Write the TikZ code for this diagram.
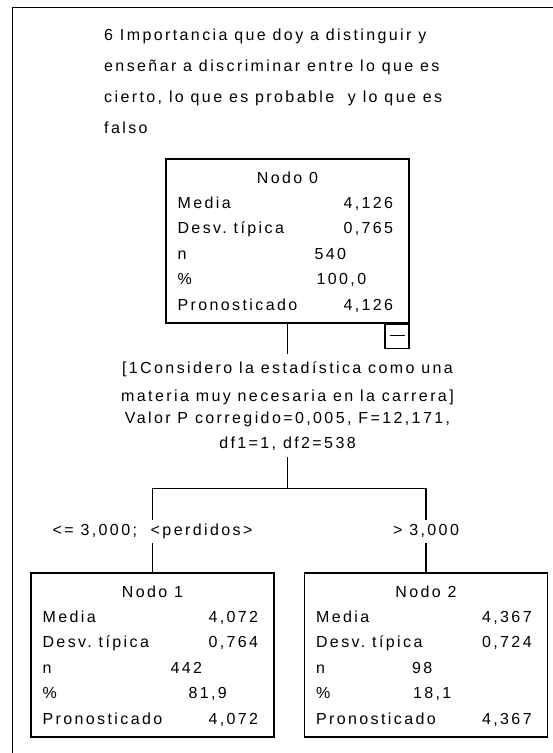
\documentclass[tikz,border=0pt]{standalone}
\usepackage{fontspec}
\setmainfont{Liberation Sans}[LetterSpace=15]
\usetikzlibrary{calc}
\tikzset{
  every picture/.style={line join=miter, line cap=rect},
  marco/.style={line width=1pt},
  caja/.style={draw, line width=1.3pt, minimum width=243pt, minimum height=164pt, inner sep=0pt},
  fila/.style={anchor=west, inner sep=0pt, text height=11pt, text depth=3pt},
  valor/.style={anchor=east, inner sep=0pt, text height=11pt, text depth=3pt},
  enlace/.style={line width=1.3pt},
  etiqueta/.style={inner sep=0pt, minimum height=24pt},
}

\begin{document}
\begin{tikzpicture}[x=1pt, y=-1pt, font=\fontsize{16pt}{25pt}\selectfont]
\useasboundingbox (0,0) rectangle (553,753);
\draw[marco] (553,7) -- (12,7) -- (12,753);

\node[anchor=north west, align=left, inner sep=0pt, font=\fontsize{16pt}{31pt}\selectfont] (titulo) at (104,28.5)
  {6 Importancia que doy a distinguir y\\enseñar a discriminar entre lo que es\\cierto, lo que es probable\ \ y lo que es\\falso};

% cajas del arbol
\node[caja] (nodo0) at (287.5,241) {};
\node[caja] (nodo1) at (152.5,655) {};
\node[caja] (nodo2) at (426,655) {};
\node[draw, line width=1.3pt, minimum size=24pt, inner sep=0pt, anchor=north east] (plegar) at (nodo0.south east) {};
\draw[line width=1.3pt] ($(plegar.center)+(-6,-1)$) -- ($(plegar.center)+(7,-1)$);

\foreach \b/\t in {nodo0/Nodo 0,nodo1/Nodo 1,nodo2/Nodo 2}{
  \node[inner sep=0pt] (\b-t) at ($(\b.north)+(0,19)$) {\t};
  \foreach \i/\lab in {0/Media,1/Desv.\ típica,2/n,3/\%,4/Pronosticado}
    \node[fila] (\b-l\i) at ($(\b.north west)+(12,46+25.5*\i)$) {\lab};
}
\foreach \b/\m/\d/\nv/\nx/\pc/\px in {nodo0/{4,126}/{0,765}/540/149/{100,0}/151,
    nodo1/{4,072}/{0,764}/442/140/{81,9}/158, nodo2/{4,367}/{0,724}/98/108/{18,1}/109}{
  \node[valor] (\b-m) at ($(\b.north west)+(228,46)$) {\m};
  \node[valor] (\b-d) at ($(\b.north west)+(228,71.5)$) {\d};
  \node[fila] (\b-n) at ($(\b.north west)+(\nx,97)$) {\nv};
  \node[fila] (\b-p) at ($(\b.north west)+(\px,122.5)$) {\pc};
  \node[valor] (\b-r) at ($(\b.north west)+(228,148)$) {\m};
}

% variable de corte
\node[align=center, inner xsep=0pt, inner ysep=7.5pt, anchor=north] (corte) at ($(nodo0.south)+(0,30)$)
  {[1Considero la estadística como una\\[3pt]materia muy necesaria en la carrera]\\[-3pt]Valor P corregido=0,005, F=12,171,\\df1=1, df2=538};
\coordinate (union) at ($(corte.south)+(0,30.5)$);

\node[etiqueta] (etq1) at ($(nodo1.north)+(0,-41)$) {<= 3,000;\ \ <perdidos>};
\node[etiqueta] (etq2) at ($(nodo2.north)+(0,-41)$) {> 3,000};

\draw[enlace] (nodo0.south) -- (corte.north);
\draw[enlace] (corte.south) -- (union);
\draw[enlace] (union) -| (etq1.north);
\draw[enlace] (union) -| (etq2.north);
\draw[enlace] (etq1.south) -- (nodo1.north);
\draw[enlace] (etq2.south) -- (nodo2.north);
\end{tikzpicture}
\end{document}
